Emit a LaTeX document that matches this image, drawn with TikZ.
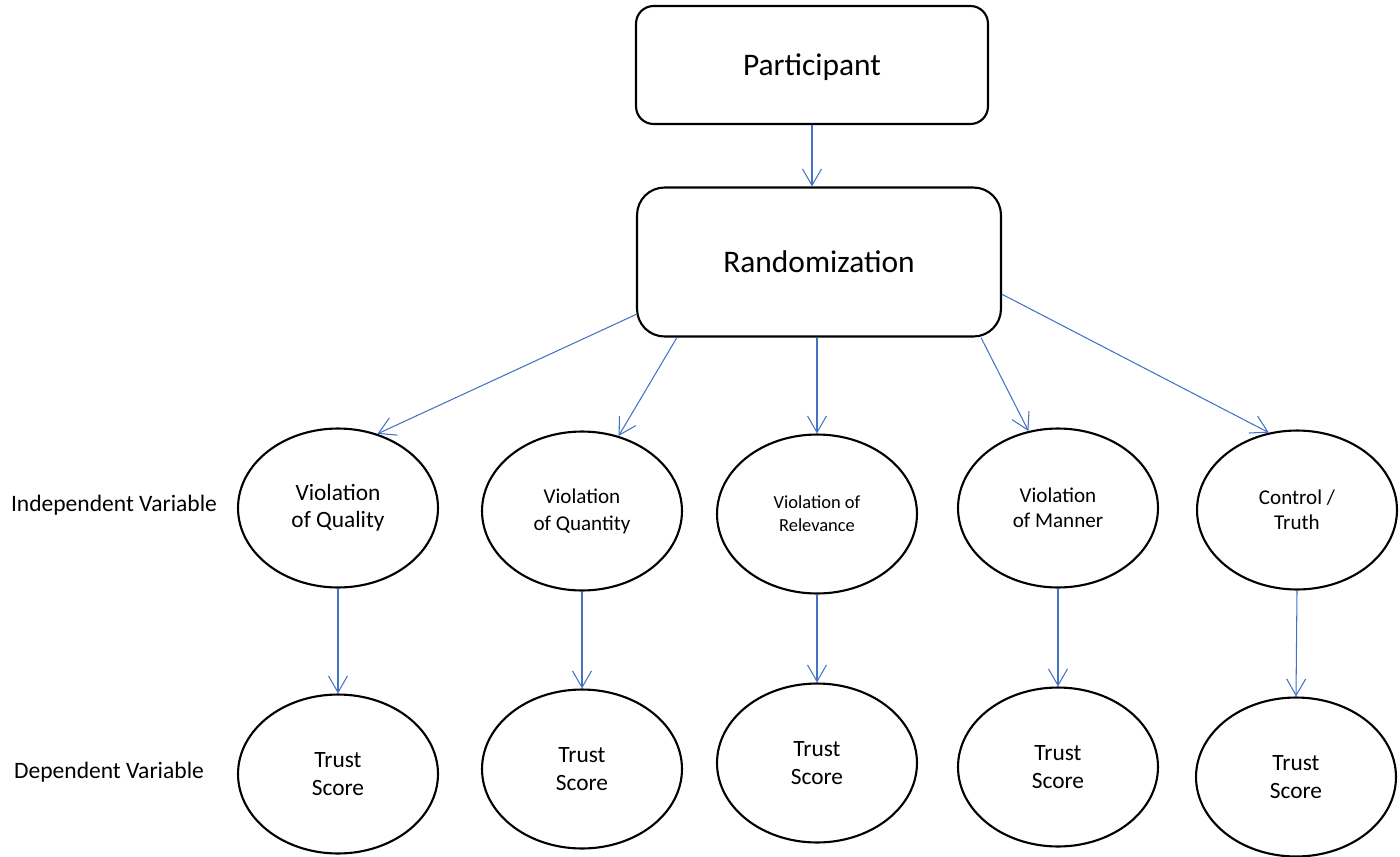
\documentclass[tikz,border=0pt]{standalone}
\usepackage{fontspec}
\setmainfont{Carlito}
\usetikzlibrary{arrows.meta, positioning, shapes.geometric}
\definecolor{linkblue}{HTML}{4472C4}
\tikzset{
  stage/.style={draw, line width=1.2pt, rounded corners=0.35cm, align=center, text depth=0pt, font=\fontsize{17.9}{21}\selectfont},
  cond/.style={draw, ellipse, line width=1.2pt, minimum width=4cm, minimum height=3.18cm, inner sep=0pt, align=center},
  link/.style={draw=linkblue, line width=0.6pt, -{Straight Barb[length=0.33cm, width=0.38cm]}},
}

\begin{document}
\begin{tikzpicture}[x=0.02cm, y=-0.02cm]
        \useasboundingbox (0,0) rectangle (1400,856);

        % Top boxes
        \node[stage, minimum width=7.04cm, minimum height=2.36cm] (part) at (812,65) {Participant};
        \node[stage, minimum width=7.28cm, minimum height=2.98cm, rounded corners=0.55cm] (rand) at (819,262) {Randomization};

        % Row labels
        \node[font=\fontsize{13.4}{16}\selectfont] (ivlabel) at (114,505) {Independent Variable};
        \node[font=\fontsize{13.4}{16}\selectfont] (dvlabel) at (109,772) {Dependent Variable};

        % Conditions (independent variable)
        \node[cond, font=\fontsize{13.3}{15.5}\selectfont] (qual) at (338,508) {Violation\\of Quality};
        \node[cond, font=\fontsize{12}{15.3}\selectfont] (quant) at (582,511) {Violation\\of Quantity};
        \node[cond, font=\fontsize{10.5}{13.2}\selectfont] (rel) at (817,514) {Violation of\\Relevance};
        \node[cond, font=\fontsize{12}{14.2}\selectfont] (man) at (1058,508) {Violation\\of Manner};
        \node[cond, font=\fontsize{12}{14.2}\selectfont] (ctrl) at (1297,510) {Control /\\Truth};

        % Outcomes (dependent variable)
        \node[cond, font=\fontsize{13.3}{16}\selectfont] (score1) at (338,774) {Trust\\Score};
        \node[cond, font=\fontsize{13.3}{16}\selectfont] (score2) at (582,769) {Trust\\Score};
        \node[cond, font=\fontsize{13.3}{16}\selectfont] (score3) at (817,763) {Trust\\Score};
        \node[cond, font=\fontsize{13.3}{16}\selectfont] (score4) at (1058,767) {Trust\\Score};
        \node[cond, font=\fontsize{13.3}{16}\selectfont] (score5) at (1296,777) {Trust\\Score};

        % Assignment arrows
        \draw[link] (part.south) -- (part.south |- rand.north);
        \draw[link] (rand.196) -- (qual.62);
        \draw[link] (rand.208) -- (quant.64);
        \draw[link] (rel.north |- rand.south) -- (rel.north);
        \draw[link] (rand.335) -- (man.111);
        \draw[link] (rand.350) -- (ctrl.110);

        % Measurement arrows
        \draw[link] (qual.south) -- (score1.north);
        \draw[link] (quant.south) -- (score2.north);
        \draw[link] (rel.south) -- (score3.north);
        \draw[link] (man.south) -- (score4.north);
        \draw[link] (ctrl.south) -- (score5.north);
    \end{tikzpicture}
\end{document}
